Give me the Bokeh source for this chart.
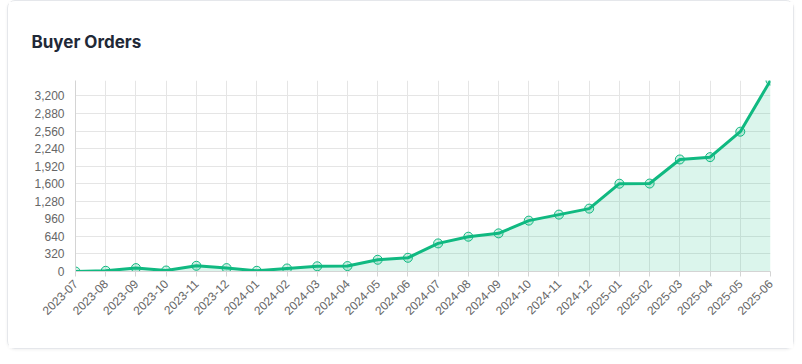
from bokeh.plotting import figure
from bokeh.models import FixedTicker, NumeralTickFormatter, Range1d, ColumnDataSource
from bokeh.embed import file_html
from bokeh.resources import INLINE

months = ["2023-07", "2023-08", "2023-09", "2023-10", "2023-11", "2023-12",
          "2024-01", "2024-02", "2024-03", "2024-04", "2024-05", "2024-06",
          "2024-07", "2024-08", "2024-09", "2024-10", "2024-11", "2024-12",
          "2025-01", "2025-02", "2025-03", "2025-04", "2025-05", "2025-06"]
orders = [0, 13, 62, 18, 104, 62, 13, 55, 95, 99, 214, 250,
          512, 634, 695, 927, 1037, 1146, 1600, 1603, 2042, 2084, 2548, 3481]
y_ticks = [0, 320, 640, 960, 1280, 1600, 1920, 2240, 2560, 2880, 3200]
title_text = "Buyer Orders"

GREEN = "#10b981"
idx = list(range(len(months)))
src = ColumnDataSource(dict(x=idx, y=orders, base=[0] * len(orders)))

p = figure(width=787, height=349, output_backend="svg", toolbar_location=None,
           x_range=Range1d(0, len(months) - 1), y_range=Range1d(0, max(orders)),
           min_border_left=67, min_border_right=25, min_border_top=79, min_border_bottom=79,
           title=title_text)
p.styles = {"border": "1px solid #e5e7eb", "border-radius": "8px", "margin-left": "7px",
            "box-shadow": "0 1px 3px rgba(0,0,0,0.06)", "box-sizing": "border-box"}
p.outline_line_color = None
p.background_fill_color = "white"
p.border_fill_color = "white"

p.title.text_font = "Inter"
p.title.text_font_size = "17px"
p.title.text_font_style = "bold"
p.title.text_color = "#1f2937"
p.title.align = "left"
p.title.offset = -44
p.title.standoff = 57

p.varea(x="x", y1="base", y2="y", source=src, fill_color=GREEN, fill_alpha=0.15)
p.line(x="x", y="y", source=src, line_color=GREEN, line_width=3)
p.scatter(x="x", y="y", source=src, size=9, marker="circle", fill_color=GREEN,
          fill_alpha=0.2, line_color=GREEN, line_width=1)

p.xaxis.ticker = FixedTicker(ticks=idx)
p.xaxis.major_label_overrides = {i: m for i, m in enumerate(months)}
p.xaxis.major_label_orientation = 0.785398
p.xaxis.major_tick_out = 5
p.xaxis.major_tick_in = 0
p.xaxis.major_label_standoff = 5
p.xaxis.minor_tick_line_color = None

p.yaxis.ticker = FixedTicker(ticks=y_ticks)
p.yaxis.formatter = NumeralTickFormatter(format="0,0")
p.yaxis.major_tick_out = 0
p.yaxis.major_tick_in = 0
p.yaxis.major_label_standoff = 11
p.yaxis.minor_tick_line_color = None

for ax in (p.xaxis, p.yaxis):
    ax.axis_line_color = "#d4d4d4"
    ax.major_tick_line_color = "#d4d4d4"
    ax.major_label_text_font = "Liberation Sans"
    ax.major_label_text_font_size = "12px"
    ax.major_label_text_color = "#666666"

p.xgrid.grid_line_color = "#e5e5e5"
p.ygrid.grid_line_color = "#e5e5e5"

open("out.html", "w").write(file_html(p, INLINE))
